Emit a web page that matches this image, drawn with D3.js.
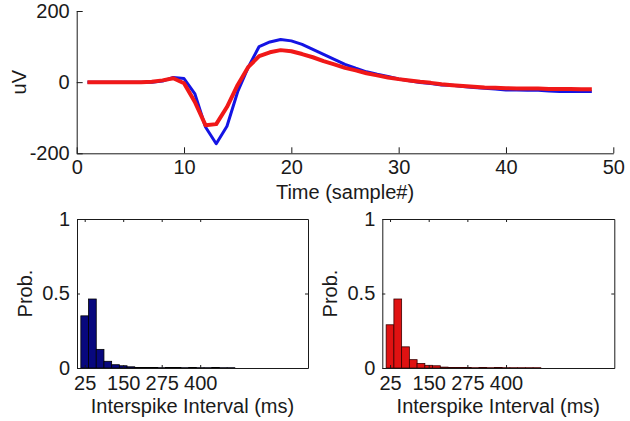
<!DOCTYPE html>
<html><head><meta charset="utf-8">
<script src="https://cdn.jsdelivr.net/npm/d3@7"></script>
<style>body{margin:0;background:#fff}</style>
</head><body>
<svg id="c" width="630" height="421"></svg>
<script>
// ---- data ----
const samples = [1,2,3,4,5,6,7,8,9,10,11,12,13,14,15,16,17,18,19,20,21,22,23,24,25,26,27,28,29,30,31,32,33,34,35,36,37,38,39,40,41,42,43,44,45,46,47,48];
const blueWave = [0,0,0,0,0,0,0,3,13,10,-32,-126,-173,-124,-27,43,100,113,120,116,106,92,78,64,50,39,29,22,16,9,4,-1,-4,-8,-9,-12,-15,-17,-19,-22,-22,-23,-23,-25,-26,-26,-26,-26];
const redWave  = [0,0,0,0,0,0,1,5,11,-3,-55,-121,-118,-70,-8,43,73,84,90,87,79,70,59,50,40,33,25,19,13,8.5,4.7,1,-2,-6,-8.5,-11,-13,-15,-16,-17,-18,-18,-18,-19,-19,-19,-20,-20];
const topXTicks = [0,10,20,30,40,50];
const topYTicks = [-200,0,200];

const isiBins = [25,50,75,100,125,150,175,200,225,250,275,300,325,350,375,400,425,450,475,500];
const isiBlue = [0.35,0.463,0.125,0.045,0.022,0.015,0.008,0.004,0.003,0.004,0.002,0.003,0.003,0.002,0.003,0.002,0.002,0.003,0.002,0.002];
const isiRed  = [0.29,0.463,0.142,0.056,0.03,0.018,0.015,0.006,0.004,0.003,0.003,0.002,0.003,0.002,0.003,0.002,0.002,0.002,0.002,0.002];
const isiTicks = [25,150,275,400];
const probTicks = [0,0.5,1];

// ---- drawing ----
const FONT = '"Liberation Sans", Arial, sans-serif';
const FS = 20;
const svg = d3.select("#c");
svg.append("rect").attr("width",630).attr("height",421).attr("fill","#fff");

function styleAxis(g){
  g.attr("font-size",FS).attr("font-family",FONT).attr("color","#1a1a1a");
  g.selectAll("path,line").attr("stroke-width",1);
}

// Top waveform plot
const x = d3.scaleLinear().domain([0,50]).range([76.7,613.3]);
const y = d3.scaleLinear().domain([-200,200]).range([153.3,11]);
const gTop = svg.append("g");
gTop.append("g").attr("transform",`translate(0,${y(-200)})`)
  .call(d3.axisBottom(x).tickValues(topXTicks).tickSizeInner(-6).tickSizeOuter(0).tickPadding(7).tickFormat(d=>String(d)))
  .call(styleAxis);
gTop.append("g").attr("transform",`translate(${x(0)},0)`)
  .call(d3.axisLeft(y).tickValues(topYTicks).tickSizeInner(-6).tickSizeOuter(0).tickPadding(7).tickFormat(d=>String(d)))
  .call(styleAxis);

const line = d3.line().x((d,i)=>x(samples[i])).y(d=>y(d));
gTop.append("path").datum(blueWave).attr("d",line).attr("fill","none")
  .attr("stroke","#1414e4").attr("stroke-width",3).attr("stroke-linejoin","round");
gTop.append("path").datum(redWave).attr("d",line).attr("fill","none")
  .attr("stroke","#f01818").attr("stroke-width",4).attr("stroke-linejoin","round");

svg.append("text").attr("x",345).attr("y",199).attr("text-anchor","middle")
  .attr("font-family",FONT).attr("font-size",FS).attr("fill","#1a1a1a").text("Time (sample#)");
svg.append("text").attr("transform",`translate(26,${y(0)}) rotate(-90)`).attr("text-anchor","middle")
  .attr("font-family",FONT).attr("font-size",FS).attr("fill","#1a1a1a").text("uV");

// Histograms
function hist(x0, x1, values, fill, edge){
  const hx = d3.scaleLinear().domain([0,750]).range([x0,x1]);
  const hy = d3.scaleLinear().domain([0,1]).range([368,219]);
  const g = svg.append("g");
  g.selectAll("rect.bar").data(values).join("rect").attr("class","bar")
    .attr("x",(d,i)=>hx(isiBins[i]-12.5)).attr("width",(d,i)=>hx(isiBins[i]+12.5)-hx(isiBins[i]-12.5))
    .attr("y",d=>hy(d)).attr("height",d=>hy(0)-hy(d))
    .attr("fill",fill).attr("stroke",edge).attr("stroke-width",0.8);
  g.append("g").attr("transform",`translate(0,${hy(0)})`)
    .call(d3.axisBottom(hx).tickValues(isiTicks).tickSizeInner(-3).tickSizeOuter(0).tickPadding(8).tickFormat(d=>String(d)))
    .call(styleAxis);
  g.append("g").attr("transform",`translate(0,${hy(1)})`)
    .call(d3.axisTop(hx).tickValues(isiTicks).tickSizeInner(-3).tickSizeOuter(0).tickFormat(""))
    .call(styleAxis);
  g.append("g").attr("transform",`translate(${x0},0)`)
    .call(d3.axisLeft(hy).tickValues(probTicks).tickSizeInner(-3).tickSizeOuter(0).tickPadding(7).tickFormat(d=>String(d)))
    .call(styleAxis);
  g.append("g").attr("transform",`translate(${x1},0)`)
    .call(d3.axisRight(hy).tickValues(probTicks).tickSizeInner(-3).tickSizeOuter(0).tickFormat(""))
    .call(styleAxis);
  g.append("text").attr("x",(x0+x1)/2).attr("y",413).attr("text-anchor","middle")
    .attr("font-family",FONT).attr("font-size",FS).attr("fill","#1a1a1a").text("Interspike Interval (ms)");
  g.append("text").attr("transform",`translate(${x0-45},${hy(0.5)}) rotate(-90)`).attr("text-anchor","middle")
    .attr("font-family",FONT).attr("font-size",FS).attr("fill","#1a1a1a").text("Prob.");
}
hist(77, 308, isiBlue, "#08087e", "#000");
hist(382.3, 614.3, isiRed, "#e01212", "#3a0000");
</script>
</body></html>
